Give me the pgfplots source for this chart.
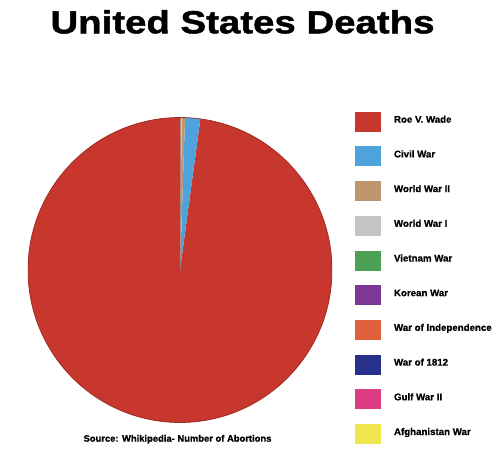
\documentclass[border=0pt]{standalone}
\usepackage{pgfplots}
\pgfplotsset{compat=1.18}
\usepackage{pgfplotstable}
\usepackage{fontspec}
\setmainfont{Liberation Sans}
\newfontfamily\titlefont{Liberation Sans}[FakeStretch=1.2,BoldFeatures={FakeBold=1.5}]
\newfontfamily\smallfont{Liberation Sans}[BoldFeatures={FakeBold=0.8}]

\definecolor{roe}{HTML}{C8372D}
\definecolor{civil}{HTML}{4FA3DC}
\definecolor{wwtwo}{HTML}{BE966E}
\definecolor{wwone}{HTML}{C4C4C4}
\definecolor{vietnam}{HTML}{4CA055}
\definecolor{korean}{HTML}{7D3795}
\definecolor{independence}{HTML}{E05F3C}
\definecolor{twelve}{HTML}{28328C}
\definecolor{gulf}{HTML}{DC3C82}
\definecolor{afghan}{HTML}{F0E650}

% share of the pie, in percent
\pgfplotstableread[col sep=comma]{
name,share,colour
Roe V. Wade,97.86,roe
Civil War,1.61,civil
World War II,0.35,wwtwo
World War I,0.10,wwone
Vietnam War,0.03,vietnam
Korean War,0.02,korean
War of Independence,0.015,independence
War of 1812,0.01,twelve
Gulf War II,0.004,gulf
Afghanistan War,0.001,afghan
}\deathtable

\begin{document}
\begin{tikzpicture}
\useasboundingbox (-28pt,-30.5pt) rectangle (472pt,422.5pt);
\begin{axis}[
  width=304pt, height=305pt, scale only axis,
  xmin=-1, xmax=1, ymin=-1, ymax=1,
  hide axis,
  legend image code/.code={\fill[#1, draw=none] (0pt,-9pt) rectangle (26pt,11pt);},
  legend cell align=left,
  legend style={at={(1.0757,1.019)}, anchor=north west, draw=none, fill=none,
    inner sep=0pt, outer sep=0pt, row sep=14.7pt,
    cells={anchor=base west},
    /tikz/every odd column/.append style={column sep=11pt},
    font=\smallfont\bfseries\fontsize{9.7}{11}\selectfont},
]
\pgfplotstablegetrowsof{\deathtable}
\pgfmathtruncatemacro\lastrow{\pgfplotsretval-1}
\gdef\startangle{90}
\pgfplotsforeachungrouped \i in {0,...,\lastrow}{%
  \pgfplotstablegetelem{\i}{share}\of\deathtable
  \let\share=\pgfplotsretval
  \pgfplotstablegetelem{\i}{colour}\of\deathtable
  \let\slicecolour=\pgfplotsretval
  \pgfplotstablegetelem{\i}{name}\of\deathtable
  \let\slicename=\pgfplotsretval
  \pgfmathsetmacro\endangle{\startangle+3.6*\share}%
  \edef\doslice{\noexpand\fill[\slicecolour] (axis cs:0,0) -- ([shift={(\startangle:152pt and 152.5pt)}]axis cs:0,0) arc[start angle=\startangle, end angle=\endangle, x radius=152pt, y radius=152.5pt] -- cycle;}%
  \doslice
  \edef\dolegend{\noexpand\addlegendimage{draw=none, fill=\slicecolour}}%
  \dolegend
  \addlegendentryexpanded{\slicename}%
  \global\let\startangle=\endangle
}
\draw[roe!75!black, line width=0.7pt] (axis cs:0,0) circle[x radius=152pt, y radius=152.5pt];
\end{axis}
\node[anchor=base] at (214.5pt,389.2pt) {\titlefont\bfseries\fontsize{32}{36}\selectfont United States Deaths};
\node[anchor=base, font=\smallfont\bfseries\fontsize{9.4}{11}\selectfont] at (149.5pt,-19.2pt) {Source: Whikipedia- Number of Abortions};
\end{tikzpicture}
\end{document}
